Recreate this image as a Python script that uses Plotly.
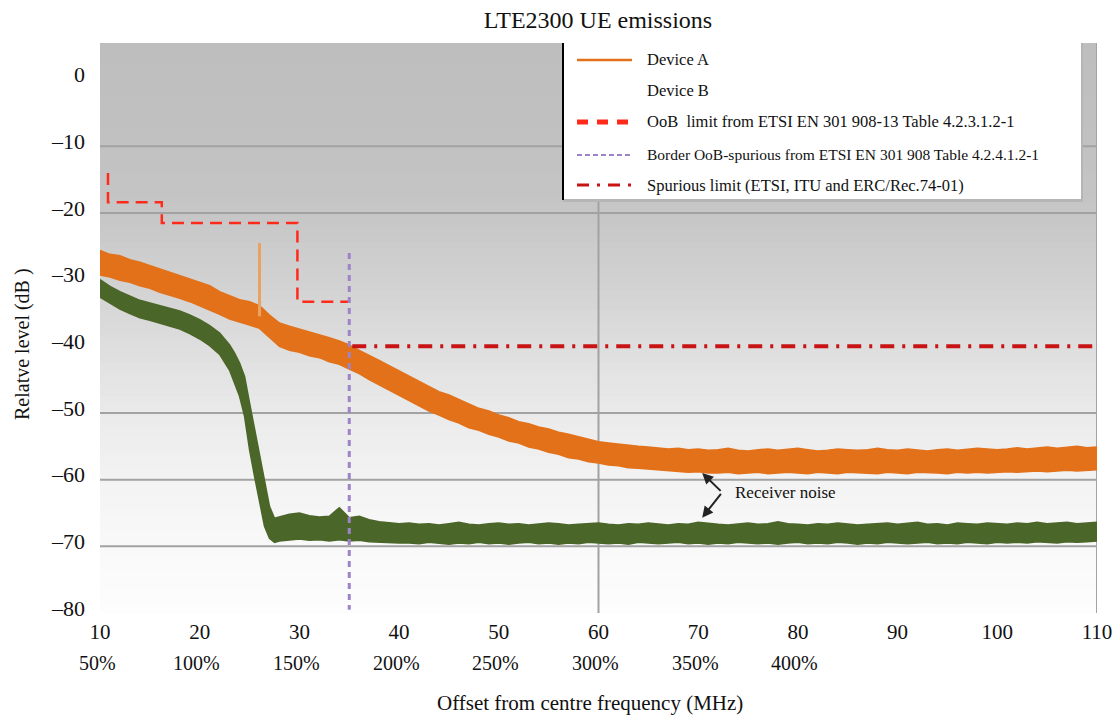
import plotly.graph_objects as go

# ---------------- data ----------------
orange_x = list(range(10, 111))
orange_upper = [
    -25.6, -26.2, -26.4, -27.0, -27.4, -27.9, -28.3, -28.9, -29.3, -29.8,
    -30.3, -30.9, -31.8, -32.4, -33.0, -33.3, -33.9, -35.3, -36.5, -37.0,
    -37.4, -37.8, -38.2, -38.7, -39.2, -39.8, -40.6, -41.3, -42.1, -42.9,
    -43.7, -44.5, -45.3, -46.0, -46.8, -47.3, -48.0, -48.6, -49.3, -49.7,
    -50.3, -50.7, -51.3, -51.6, -52.1, -52.4, -52.9, -53.2, -53.6, -53.9,
    -54.3, -54.5, -54.7, -54.9, -55.0, -55.1, -55.2, -55.4, -55.3, -55.5,
    -55.4, -55.6, -55.5, -55.3, -55.6, -55.7, -55.5, -55.4, -55.6, -55.5,
    -55.3, -55.5, -55.7, -55.6, -55.4, -55.5, -55.6, -55.5, -55.3, -55.5,
    -55.6, -55.4, -55.5, -55.7, -55.5, -55.4, -55.6, -55.5, -55.3, -55.4,
    -55.5, -55.4, -55.2, -55.4, -55.3, -55.1, -55.3, -55.2, -55.0, -55.2, -55.1,
]
orange_lower = [
    -29.3, -29.6, -30.1, -30.4, -30.9, -31.3, -31.9, -32.3, -32.8, -33.3,
    -33.9, -34.5, -35.2, -35.9, -36.3, -36.8, -37.3, -38.7, -40.0, -40.6,
    -40.9, -41.4, -41.7, -42.3, -42.7, -43.4, -44.1, -45.0, -45.8, -46.6,
    -47.4, -48.2, -48.9, -49.7, -50.3, -51.0, -51.5, -52.2, -52.6, -53.2,
    -53.6, -54.2, -54.5, -55.1, -55.4, -55.9, -56.2, -56.7, -56.9, -57.3,
    -57.5, -57.8, -57.9, -58.2, -58.3, -58.4, -58.6, -58.6, -58.8, -58.9,
    -58.8, -59.0, -59.0, -58.9, -59.1, -59.0, -58.9, -59.1, -59.0, -58.9,
    -59.0, -59.1, -58.9, -59.0, -59.1, -58.9, -59.0, -59.0, -59.1, -58.9,
    -59.0, -59.1, -58.9, -58.9, -59.0, -59.1, -58.9, -59.0, -58.9, -59.0,
    -58.9, -58.8, -58.9, -58.8, -58.7, -58.8, -58.7, -58.6, -58.7, -58.6, -58.5,
]

green_x = ([10, 11, 12, 13, 14, 15, 16, 17, 18, 19, 20, 21, 22, 23,
            23.5, 24, 24.5, 25, 25.5, 26, 26.5, 27, 27.5, 28]
           + list(range(29, 111)))
green_upper = [
    -30.0, -31.0, -31.8, -32.5, -33.1, -33.5, -33.9, -34.2, -34.7, -35.3, -36.0, -36.9, -38.0, -39.8,
    -41.0, -42.5, -44.5, -48.5, -52.5, -56.5, -60.5, -64.0, -65.8, -65.6,
    -65.2, -65.0, -65.4, -65.6, -65.5, -64.2, -65.7, -65.5, -66.0, -66.3, -66.5, -66.6,
    -66.5, -66.7, -66.6, -66.8, -66.6, -66.4, -66.7, -66.8, -66.6, -66.5,
    -66.7, -66.6, -66.8, -66.7, -66.5, -66.6, -66.8, -66.7, -66.6, -66.5,
    -66.7, -66.8, -66.6, -66.7, -66.5, -66.6, -66.8, -66.6, -66.7, -66.4,
    -66.6, -66.7, -66.8, -66.6, -66.5, -66.7, -66.6, -66.3, -66.6, -66.7,
    -66.8, -66.6, -66.7, -66.5, -66.6, -66.8, -66.7, -66.6, -66.5, -66.7,
    -66.6, -66.4, -66.7, -66.6, -66.8, -66.5, -66.6, -66.7, -66.5, -66.6,
    -66.7, -66.5, -66.6, -66.4, -66.6, -66.5, -66.4, -66.6, -66.5, -66.4,
]
green_lower = [
    -32.6, -33.5, -34.4, -35.1, -35.7, -36.1, -36.5, -36.9, -37.4, -38.1, -38.9, -39.9, -41.2, -43.6,
    -45.6, -47.5, -50.5, -55.5, -59.5, -63.5, -67.0, -68.8, -69.4, -69.2,
    -69.0, -68.9, -69.1, -69.0, -69.2, -69.0, -69.2, -69.1, -69.3, -69.4, -69.4, -69.5,
    -69.5, -69.6, -69.4, -69.5, -69.7, -69.5, -69.6, -69.4, -69.6, -69.5,
    -69.7, -69.5, -69.4, -69.6, -69.5, -69.7, -69.5, -69.6, -69.4, -69.5,
    -69.6, -69.5, -69.7, -69.4, -69.5, -69.6, -69.5, -69.4, -69.6, -69.5,
    -69.7, -69.5, -69.6, -69.4, -69.5, -69.6, -69.5, -69.7, -69.5, -69.4,
    -69.6, -69.5, -69.6, -69.4, -69.5, -69.7, -69.5, -69.6, -69.4, -69.5,
    -69.6, -69.5, -69.4, -69.6, -69.5, -69.6, -69.4, -69.5, -69.6, -69.4,
    -69.5, -69.4, -69.5, -69.3, -69.4, -69.5, -69.3, -69.4, -69.3, -69.2,
]

spike_x = [26.0, 26.0]
spike_y = [-35.5, -24.5]

oob_x = [10.8, 10.8, 16.2, 16.2, 29.8, 29.8, 35.0]
oob_y = [-14.0, -18.4, -18.4, -21.5, -21.5, -33.3, -33.3]

border_x = [35.0, 35.0]
border_y = [-26.0, -79.5]

spur_x = [35.3, 110.0]
spur_y = [-40.0, -40.0]

x_tick_vals = list(range(10, 111, 10))
y_tick_vals = [0, -10, -20, -30, -40, -50, -60, -70, -80]
y_tick_text = ["0", "\u201310", "\u201320", "\u201330", "\u201340",
               "\u201350", "\u201360", "\u201370", "\u201380"]
pct_x = [10, 20, 30, 40, 50, 60, 70, 80]
pct_labels = ["50%", "100%", "150%", "200%", "250%", "300%", "350%", "400%"]
grid_y = [-10, -20, -50, -60, -70]
grid_x = [60, 110]

legend_names = [
    "Device A",
    "Device B",
    "OoB  limit from ETSI EN 301 908-13 Table 4.2.3.1.2-1",
    "Border OoB-spurious from ETSI EN 301 908 Table 4.2.4.1.2-1",
    "Spurious limit (ETSI, ITU and ERC/Rec.74-01)",
]

for a, b in ((orange_upper, orange_x), (orange_lower, orange_x),
             (green_upper, green_x), (green_lower, green_x)):
    if len(a) != len(b):
        raise SystemExit(f"length mismatch {len(a)} vs {len(b)}")

# ---------------- style ----------------
FONT = "Liberation Serif"
ORANGE = "#e2711a"
GREEN = "#4b6629"
RED = "#ff2a1a"
PURPLE = "#9d84c6"
DARKRED = "#c81414"

fig = go.Figure()

# Device A band
fig.add_trace(go.Scatter(x=orange_x, y=orange_lower, mode="lines",
                         line=dict(color=ORANGE, width=1.5), showlegend=False,
                         hoverinfo="skip"))
fig.add_trace(go.Scatter(x=orange_x, y=orange_upper, mode="lines", fill="tonexty",
                         fillcolor=ORANGE, line=dict(color=ORANGE, width=1.5),
                         name=legend_names[0], showlegend=False))
fig.add_trace(go.Scatter(x=spike_x, y=spike_y, mode="lines",
                         line=dict(color="#e9a263", width=3), showlegend=False))
# Device B band
fig.add_trace(go.Scatter(x=green_x, y=green_lower, mode="lines",
                         line=dict(color=GREEN, width=1.5), showlegend=False,
                         hoverinfo="skip"))
fig.add_trace(go.Scatter(x=green_x, y=green_upper, mode="lines", fill="tonexty",
                         fillcolor=GREEN, line=dict(color=GREEN, width=1.5),
                         name=legend_names[1], showlegend=False))
# limits
fig.add_trace(go.Scatter(x=oob_x, y=oob_y, mode="lines",
                         line=dict(color=RED, width=2.5, dash="12px,7px"),
                         name=legend_names[2], showlegend=False))
fig.add_trace(go.Scatter(x=border_x, y=border_y, mode="lines",
                         line=dict(color=PURPLE, width=3, dash="6px,5px"),
                         name=legend_names[3], showlegend=False))
fig.add_trace(go.Scatter(x=spur_x, y=spur_y, mode="lines",
                         line=dict(color=DARKRED, width=4, dash="14px,8px,3px,8px"),
                         name=legend_names[4], showlegend=False))

shapes = []
# background gradient (dark grey top -> white bottom)
stops = [(5.5, 190), (-10, 193), (-20, 198), (-30, 209), (-40, 222),
         (-50, 234), (-60, 243), (-70, 249), (-80, 253)]
def grey_at(v):
    for (y0, g0), (y1, g1) in zip(stops[:-1], stops[1:]):
        if y1 <= v <= y0:
            t = (y0 - v) / (y0 - y1)
            return g0 + t * (g1 - g0)
    return stops[-1][1]
v = 5.5
while v > -80:
    v2 = max(v - 1.0, -80)
    g = int(round(grey_at((v + v2) / 2)))
    shapes.append(dict(type="rect", xref="paper", yref="y", x0=0, x1=1,
                       y0=max(v2 - 0.4, -80), y1=v,
                       fillcolor=f"rgb({g},{g},{g})", line=dict(width=0), layer="below"))
    v = v2
# grid lines
for gy in grid_y:
    shapes.append(dict(type="line", xref="paper", yref="y", x0=0, x1=1, y0=gy, y1=gy,
                       line=dict(color="#a2a2a2", width=2), layer="below"))
for gx in grid_x:
    shapes.append(dict(type="line", xref="x", yref="paper", x0=gx, x1=gx, y0=0, y1=1,
                       line=dict(color="#a2a2a2", width=2), layer="below"))

# legend box (paper coords: plot area is 997 x 570 px, origin at px (100, 613))
def px_x(px):
    return (px - 100) / 997.0
def px_y(py):
    return (613 - py) / 570.0

shapes.append(dict(type="rect", xref="paper", yref="paper",
                   x0=px_x(563), x1=px_x(1083), y0=px_y(202), y1=1,
                   fillcolor="#b5b5b5", line=dict(width=0), layer="above"))
shapes.append(dict(type="rect", xref="paper", yref="paper",
                   x0=px_x(563), x1=px_x(1081), y0=px_y(199), y1=1,
                   fillcolor="white", line=dict(width=0), layer="above"))
shapes.append(dict(type="line", xref="paper", yref="paper",
                   x0=px_x(563), x1=px_x(563), y0=px_y(200), y1=1,
                   line=dict(color="black", width=2), layer="above"))

rows = [60, 90, 122, 155, 185]
sample_styles = [
    dict(color=ORANGE, width=2.5, dash="solid"),
    None,
    dict(color=RED, width=5, dash="11px,9px"),
    dict(color=PURPLE, width=2, dash="5px,3px"),
    dict(color=DARKRED, width=3, dash="12px,8px,3px,8px"),
]
for py, st in zip(rows, sample_styles):
    if st is not None:
        shapes.append(dict(type="line", xref="paper", yref="paper",
                           x0=px_x(577), x1=px_x(632), y0=px_y(py), y1=px_y(py),
                           line=st, layer="above"))

annotations = []
for i, (py, name) in enumerate(zip(rows, legend_names)):
    annotations.append(dict(xref="paper", yref="paper", x=px_x(645), y=px_y(py),
                            text=name, showarrow=False, xanchor="left", yanchor="middle",
                            font=dict(family=FONT, size=15.5 if i == 3 else 16.5, color="#111")))

# percentage row under x ticks
for xv, lab in zip(pct_x, pct_labels):
    annotations.append(dict(xref="x", yref="paper", x=xv, y=px_y(663), text=lab,
                            showarrow=False, xshift=-3, yanchor="middle",
                            font=dict(family=FONT, size=20, color="#111")))

# axis titles
annotations.append(dict(xref="paper", yref="paper", x=px_x(590), y=px_y(703),
                        text="Offset from centre frequency (MHz)", showarrow=False,
                        yanchor="middle", font=dict(family=FONT, size=21, color="#111")))
annotations.append(dict(xref="paper", yref="paper", x=px_x(22), y=px_y(344),
                        text="Relatve level (dB )", showarrow=False, textangle=-90,
                        xanchor="center", yanchor="middle",
                        font=dict(family=FONT, size=20, color="#111")))

# receiver noise arrows
for head_y in (-59.0, -65.7):
    annotations.append(dict(xref="x", yref="y", x=70.4, y=head_y, ax=72.4, ay=-61.9,
                            axref="x", ayref="y", text="", showarrow=True,
                            arrowhead=2, arrowsize=1.1, arrowwidth=2, arrowcolor="#222"))
annotations.append(dict(xref="x", yref="y", x=73.5, y=-61.9, text="Receiver noise",
                        showarrow=False, xanchor="left", yanchor="middle",
                        font=dict(family=FONT, size=17, color="#111")))

fig.update_layout(
    width=1113, height=718,
    margin=dict(l=100, r=16, t=43, b=105, pad=0, autoexpand=False),
    paper_bgcolor="white", plot_bgcolor="white",
    title=dict(text="LTE2300 UE emissions", x=598 / 1113,
               xanchor="center", y=1 - 20 / 718, yanchor="middle",
               font=dict(family=FONT, size=24, color="#111")),
    font=dict(family=FONT, color="#111"),
    shapes=shapes,
    annotations=annotations,
    showlegend=False,
)
fig.update_xaxes(range=[10, 110], tickvals=x_tick_vals, showgrid=False, zeroline=False,
                 showline=False, ticks="", tickfont=dict(family=FONT, size=21, color="#111"),
                 ticklabelstandoff=4, automargin=False, fixedrange=True)
fig.update_yaxes(range=[-80, 5.5], tickvals=y_tick_vals, ticktext=y_tick_text,
                 showgrid=False, zeroline=False, showline=False, ticks="",
                 tickfont=dict(family=FONT, size=22, color="#111"),
                 ticklabelstandoff=14, ticklabelshift=-5, automargin=False, fixedrange=True)

fig.write_html("out.html")
